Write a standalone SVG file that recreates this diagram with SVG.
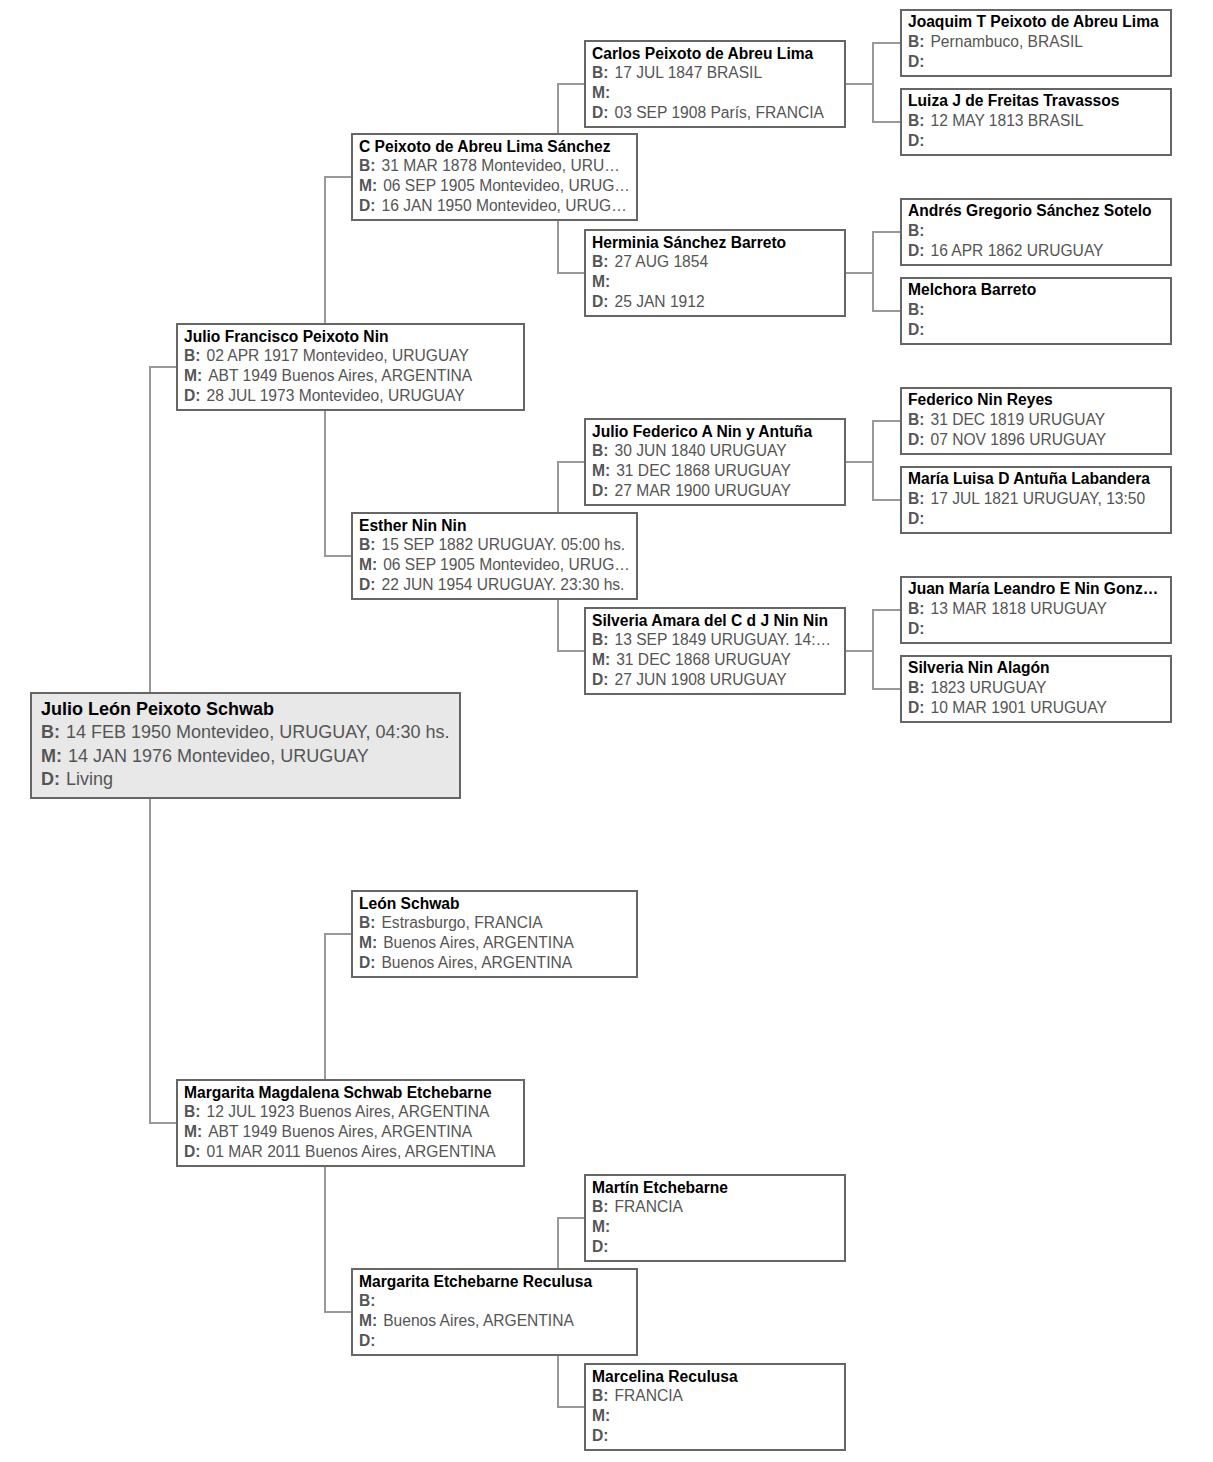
<svg xmlns="http://www.w3.org/2000/svg" width="1213" height="1462" viewBox="0 0 1213 1462">
<style>
.box{fill:#ffffff;stroke:#666666;stroke-width:2}
.root{fill:#e8e8e8;stroke:#666666;stroke-width:2}
.c{fill:none;stroke:#999999;stroke-width:2}
text{font-family:"Liberation Sans",Arial,sans-serif;font-size:15.6px;fill:#555555}
.n{font-weight:bold;fill:#000000}
.l{font-weight:bold;fill:#555555}
.big{font-size:18px}
</style>
<rect x="0" y="0" width="1213" height="1462" fill="#ffffff"/>
<g id="connectors">
<path class="c" d="M177,367H150V693M150,798V1123H177"/>
<path class="c" d="M352,177H325V324M325,410V556H352"/>
<path class="c" d="M352,1123H325V1080"/>
<path class="c" d="M325,1166V1312H352"/>
<path class="c" d="M352,934H325V1080"/>
<path class="c" d="M585,84H558V134M558,220V273H585"/>
<path class="c" d="M585,462H558V513M558,599V651H585"/>
<path class="c" d="M585,1218H558V1269M558,1355V1407H585"/>
<path class="c" d="M845,84H873M901,43H873V122H901"/>
<path class="c" d="M845,273H873M901,232H873V311H901"/>
<path class="c" d="M845,462H873M901,421H873V500H901"/>
<path class="c" d="M845,651H873M901,610H873V689H901"/>
</g>
<g id="n-root">
<rect class="root" x="31" y="693" width="429" height="105"/>
<text class="big n" x="41" y="715">Julio León Peixoto Schwab</text>
<text class="big" x="41" y="738"><tspan class="l">B:</tspan><tspan dx="6">14 FEB 1950 Montevideo, URUGUAY, 04:30 hs.</tspan></text>
<text class="big" x="41" y="762"><tspan class="l">M:</tspan><tspan dx="6">14 JAN 1976 Montevideo, URUGUAY</tspan></text>
<text class="big" x="41" y="785"><tspan class="l">D:</tspan><tspan dx="6">Living</tspan></text>
</g>
<g id="n-jfpn">
<rect class="box" x="177" y="324" width="347" height="86"/>
<text class="n" x="184" y="342">Julio Francisco Peixoto Nin</text>
<text x="184" y="361"><tspan class="l">B:</tspan><tspan dx="6">02 APR 1917 Montevideo, URUGUAY</tspan></text>
<text x="184" y="381"><tspan class="l">M:</tspan><tspan dx="6">ABT 1949 Buenos Aires, ARGENTINA</tspan></text>
<text x="184" y="401"><tspan class="l">D:</tspan><tspan dx="6">28 JUL 1973 Montevideo, URUGUAY</tspan></text>
</g>
<g id="n-mmse">
<rect class="box" x="177" y="1080" width="347" height="86"/>
<text class="n" x="184" y="1098">Margarita Magdalena Schwab Etchebarne</text>
<text x="184" y="1117"><tspan class="l">B:</tspan><tspan dx="6">12 JUL 1923 Buenos Aires, ARGENTINA</tspan></text>
<text x="184" y="1137"><tspan class="l">M:</tspan><tspan dx="6">ABT 1949 Buenos Aires, ARGENTINA</tspan></text>
<text x="184" y="1157"><tspan class="l">D:</tspan><tspan dx="6">01 MAR 2011 Buenos Aires, ARGENTINA</tspan></text>
</g>
<g id="n-cpals">
<rect class="box" x="352" y="134" width="285" height="86"/>
<text class="n" x="359" y="152">C Peixoto de Abreu Lima Sánchez</text>
<text x="359" y="171"><tspan class="l">B:</tspan><tspan dx="6">31 MAR 1878 Montevideo, URU…</tspan></text>
<text x="359" y="191"><tspan class="l">M:</tspan><tspan dx="6">06 SEP 1905 Montevideo, URUG…</tspan></text>
<text x="359" y="211"><tspan class="l">D:</tspan><tspan dx="6">16 JAN 1950 Montevideo, URUG…</tspan></text>
</g>
<g id="n-enn">
<rect class="box" x="352" y="513" width="285" height="86"/>
<text class="n" x="359" y="531">Esther Nin Nin</text>
<text x="359" y="550"><tspan class="l">B:</tspan><tspan dx="6">15 SEP 1882 URUGUAY. 05:00 hs.</tspan></text>
<text x="359" y="570"><tspan class="l">M:</tspan><tspan dx="6">06 SEP 1905 Montevideo, URUG…</tspan></text>
<text x="359" y="590"><tspan class="l">D:</tspan><tspan dx="6">22 JUN 1954 URUGUAY. 23:30 hs.</tspan></text>
</g>
<g id="n-ls">
<rect class="box" x="352" y="891" width="285" height="86"/>
<text class="n" x="359" y="909">León Schwab</text>
<text x="359" y="928"><tspan class="l">B:</tspan><tspan dx="6">Estrasburgo, FRANCIA</tspan></text>
<text x="359" y="948"><tspan class="l">M:</tspan><tspan dx="6">Buenos Aires, ARGENTINA</tspan></text>
<text x="359" y="968"><tspan class="l">D:</tspan><tspan dx="6">Buenos Aires, ARGENTINA</tspan></text>
</g>
<g id="n-mer">
<rect class="box" x="352" y="1269" width="285" height="86"/>
<text class="n" x="359" y="1287">Margarita Etchebarne Reculusa</text>
<text x="359" y="1306"><tspan class="l">B:</tspan></text>
<text x="359" y="1326"><tspan class="l">M:</tspan><tspan dx="6">Buenos Aires, ARGENTINA</tspan></text>
<text x="359" y="1346"><tspan class="l">D:</tspan></text>
</g>
<g id="n-cpal">
<rect class="box" x="585" y="41" width="260" height="86"/>
<text class="n" x="592" y="59">Carlos Peixoto de Abreu Lima</text>
<text x="592" y="78"><tspan class="l">B:</tspan><tspan dx="6">17 JUL 1847 BRASIL</tspan></text>
<text x="592" y="98"><tspan class="l">M:</tspan></text>
<text x="592" y="118"><tspan class="l">D:</tspan><tspan dx="6">03 SEP 1908 París, FRANCIA</tspan></text>
</g>
<g id="n-hsb">
<rect class="box" x="585" y="230" width="260" height="86"/>
<text class="n" x="592" y="248">Herminia Sánchez Barreto</text>
<text x="592" y="267"><tspan class="l">B:</tspan><tspan dx="6">27 AUG 1854</tspan></text>
<text x="592" y="287"><tspan class="l">M:</tspan></text>
<text x="592" y="307"><tspan class="l">D:</tspan><tspan dx="6">25 JAN 1912</tspan></text>
</g>
<g id="n-jfana">
<rect class="box" x="585" y="419" width="260" height="86"/>
<text class="n" x="592" y="437">Julio Federico A Nin y Antuña</text>
<text x="592" y="456"><tspan class="l">B:</tspan><tspan dx="6">30 JUN 1840 URUGUAY</tspan></text>
<text x="592" y="476"><tspan class="l">M:</tspan><tspan dx="6">31 DEC 1868 URUGUAY</tspan></text>
<text x="592" y="496"><tspan class="l">D:</tspan><tspan dx="6">27 MAR 1900 URUGUAY</tspan></text>
</g>
<g id="n-sacdjnn">
<rect class="box" x="585" y="608" width="260" height="86"/>
<text class="n" x="592" y="626">Silveria Amara del C d J Nin Nin</text>
<text x="592" y="645"><tspan class="l">B:</tspan><tspan dx="6">13 SEP 1849 URUGUAY. 14:…</tspan></text>
<text x="592" y="665"><tspan class="l">M:</tspan><tspan dx="6">31 DEC 1868 URUGUAY</tspan></text>
<text x="592" y="685"><tspan class="l">D:</tspan><tspan dx="6">27 JUN 1908 URUGUAY</tspan></text>
</g>
<g id="n-me">
<rect class="box" x="585" y="1175" width="260" height="86"/>
<text class="n" x="592" y="1193">Martín Etchebarne</text>
<text x="592" y="1212"><tspan class="l">B:</tspan><tspan dx="6">FRANCIA</tspan></text>
<text x="592" y="1232"><tspan class="l">M:</tspan></text>
<text x="592" y="1252"><tspan class="l">D:</tspan></text>
</g>
<g id="n-mr">
<rect class="box" x="585" y="1364" width="260" height="86"/>
<text class="n" x="592" y="1382">Marcelina Reculusa</text>
<text x="592" y="1401"><tspan class="l">B:</tspan><tspan dx="6">FRANCIA</tspan></text>
<text x="592" y="1421"><tspan class="l">M:</tspan></text>
<text x="592" y="1441"><tspan class="l">D:</tspan></text>
</g>
<g id="n-jtpal">
<rect class="box" x="901" y="10" width="270" height="66"/>
<text class="n" x="908" y="27">Joaquim T Peixoto de Abreu Lima</text>
<text x="908" y="47"><tspan class="l">B:</tspan><tspan dx="6">Pernambuco, BRASIL</tspan></text>
<text x="908" y="67"><tspan class="l">D:</tspan></text>
</g>
<g id="n-ljft">
<rect class="box" x="901" y="89" width="270" height="66"/>
<text class="n" x="908" y="106">Luiza J de Freitas Travassos</text>
<text x="908" y="126"><tspan class="l">B:</tspan><tspan dx="6">12 MAY 1813 BRASIL</tspan></text>
<text x="908" y="146"><tspan class="l">D:</tspan></text>
</g>
<g id="n-agss">
<rect class="box" x="901" y="199" width="270" height="66"/>
<text class="n" x="908" y="216">Andrés Gregorio Sánchez Sotelo</text>
<text x="908" y="236"><tspan class="l">B:</tspan></text>
<text x="908" y="256"><tspan class="l">D:</tspan><tspan dx="6">16 APR 1862 URUGUAY</tspan></text>
</g>
<g id="n-mb">
<rect class="box" x="901" y="278" width="270" height="66"/>
<text class="n" x="908" y="295">Melchora Barreto</text>
<text x="908" y="315"><tspan class="l">B:</tspan></text>
<text x="908" y="335"><tspan class="l">D:</tspan></text>
</g>
<g id="n-fnr">
<rect class="box" x="901" y="388" width="270" height="66"/>
<text class="n" x="908" y="405">Federico Nin Reyes</text>
<text x="908" y="425"><tspan class="l">B:</tspan><tspan dx="6">31 DEC 1819 URUGUAY</tspan></text>
<text x="908" y="445"><tspan class="l">D:</tspan><tspan dx="6">07 NOV 1896 URUGUAY</tspan></text>
</g>
<g id="n-mlda">
<rect class="box" x="901" y="467" width="270" height="66"/>
<text class="n" x="908" y="484">María Luisa D Antuña Labandera</text>
<text x="908" y="504"><tspan class="l">B:</tspan><tspan dx="6">17 JUL 1821 URUGUAY, 13:50</tspan></text>
<text x="908" y="524"><tspan class="l">D:</tspan></text>
</g>
<g id="n-jmle">
<rect class="box" x="901" y="577" width="270" height="66"/>
<text class="n" x="908" y="594">Juan María Leandro E Nin Gonz…</text>
<text x="908" y="614"><tspan class="l">B:</tspan><tspan dx="6">13 MAR 1818 URUGUAY</tspan></text>
<text x="908" y="634"><tspan class="l">D:</tspan></text>
</g>
<g id="n-sna">
<rect class="box" x="901" y="656" width="270" height="66"/>
<text class="n" x="908" y="673">Silveria Nin Alagón</text>
<text x="908" y="693"><tspan class="l">B:</tspan><tspan dx="6">1823 URUGUAY</tspan></text>
<text x="908" y="713"><tspan class="l">D:</tspan><tspan dx="6">10 MAR 1901 URUGUAY</tspan></text>
</g>
</svg>
